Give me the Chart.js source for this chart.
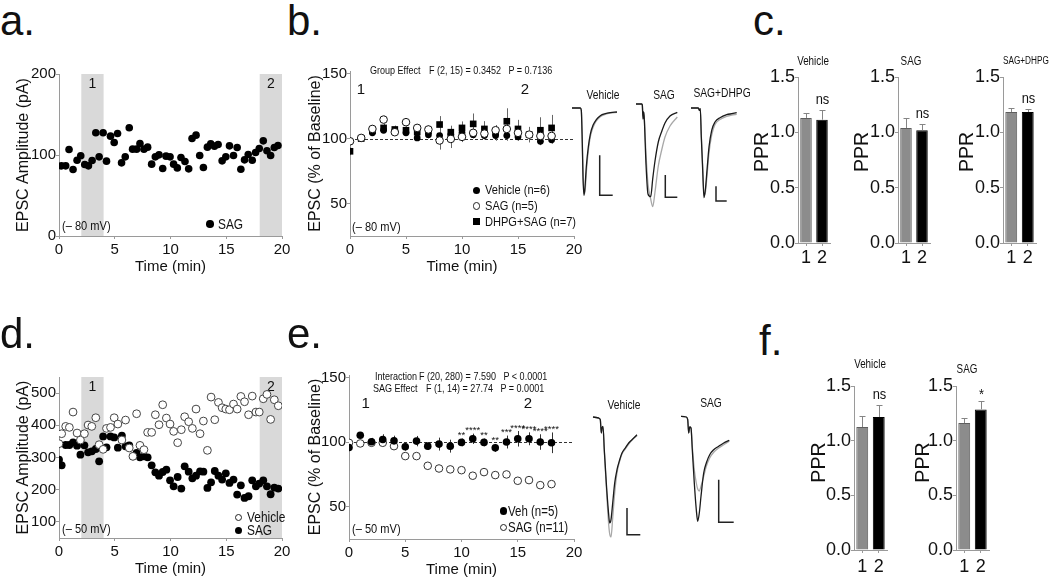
<!DOCTYPE html>
<html><head><meta charset="utf-8">
<script src="https://cdn.jsdelivr.net/npm/chart.js@4.4.1/dist/chart.umd.min.js"></script>
<style>
html,body{margin:0;padding:0;background:#fff;}
#fig{position:relative;width:1050px;height:580px;overflow:hidden;font-family:"Liberation Sans",Arial,sans-serif;color:#111;}
canvas{position:absolute;}
.t{position:absolute;white-space:pre;line-height:1;}
.mk{position:absolute;box-sizing:border-box;}
</style></head><body><div id="fig"></div>
<script>
// ---------------- DATA ----------------
// panel a : single cell, SAG, amplitude (pA) vs time (min)
const aTime = [0.21,0.60,0.90,1.26,1.62,1.95,2.31,2.64,2.97,3.30,3.60,3.96,4.26,4.62,4.95,5.25,5.61,5.94,6.30,6.60,6.96,7.26,7.62,7.95,8.31,8.64,8.97,9.30,9.60,9.96,10.28,10.61,10.94,11.30,11.63,11.93,12.29,12.62,12.95,13.31,13.61,13.94,14.27,14.63,14.96,15.29,15.65,15.98,16.31,16.64,16.97,17.33,17.63,17.96,18.32,18.65,18.98,19.31,19.64];
const aSAG = [86.6,86.6,106.8,82.1,93.6,99.0,88.2,86.6,93.2,127.4,97.7,127.4,92.4,123.3,115.5,126.6,90.3,97.7,133.6,107.2,107.2,114.2,107.2,109.7,88.7,97.7,100.2,83.3,98.6,97.7,88.7,84.1,96.9,92.0,82.9,120.4,124.5,99.4,84.5,109.7,113.8,110.9,113.0,92.8,97.7,111.3,99.4,109.3,82.5,94.0,100.6,93.6,103.1,108.0,117.5,105.2,99.4,109.3,111.8];
const aXTicks = [0,5,10,15,20];
const aYTicks = [0,100,200];
const bands = [[2,4],[18,20]];
const bandLabels = ['1','2'];

// panel b : % of baseline, -80 mV
const bTime = [0,1,2,3,4,5,6,7,8,9,10,11,12,13,14,15,16,17,18];
const bVeh = [98,100,104.4,106.4,106,104.4,100.5,103,102.3,103,104.4,103,102.3,102.3,102.3,101.3,103,97.9,99];
const bVehErr = [2,1,2,2,2,2,2,3,3,3,3,3,3,4,4,3,4,3,3];
const bSAG = [97.9,100.5,107.4,114.6,104.9,112.6,108.2,107,98.5,99.7,101.3,104.4,103.8,106.4,107.4,104.4,103,102,102];
const bSAGErr = [2,1,3,3,2,3,3,3,7,7,4,4,4,4,4,4,5,5,5];
const bDHPG = [90.2,100,106,108.2,107,106.4,105,106,110.8,104.9,108.2,111.3,107.4,105,113.3,107.4,103,106.4,108.2];
const bDHPGErr = [3,1,3,3,3,3,4,4,6.5,5,5,8,6,5,10,7,6,10,10];
const pctYTicks = [50,100,150];

// panel d : single cells, -50 mV
const dTime = [0.0,0.24,0.60,0.93,1.26,1.62,1.92,2.28,2.61,2.94,3.30,3.60,3.96,4.26,4.62,4.95,5.28,5.64,5.97,6.30,6.63,6.96,7.26,7.62,7.95,8.31,8.64,8.97,9.30,9.63,9.96,10.28,10.64,10.97,11.27,11.63,11.96,12.29,12.65,12.95,13.31,13.64,13.97,14.30,14.63,14.96,15.29,15.65,15.98,16.31,16.64,17.00,17.33,17.66,17.96,18.32,18.65,18.98,19.31,19.67];
const dVehicle = [342.9,373.9,396.6,393.5,441.1,376.0,354.3,373.9,400.8,396.6,423.5,339.8,325.3,390.4,393.5,423.5,403.9,354.3,416.3,329.5,303.6,435.9,337.7,324.3,378.0,378.0,432.8,401.8,463.8,422.5,403.9,381.1,346.0,386.3,426.6,411.1,390.4,450.4,373.9,413.2,322.2,487.6,417.3,471.1,454.5,450.4,448.3,465.9,450.4,489.7,473.1,432.8,490.7,441.1,441.1,482.4,495.9,418.3,479.3,460.7];
const dSAG = [293.3,275.7,338.8,338.8,347.0,336.7,308.8,337.7,316.0,319.1,326.4,288.1,365.6,331.5,365.6,362.5,330.5,367.7,334.6,337.7,303.6,313.9,300.5,303.6,300.5,275.7,254.0,243.7,255.0,262.3,229.2,210.6,239.5,203.4,272.6,256.1,235.4,243.7,257.1,256.1,205.4,223.0,258.1,243.7,231.3,250.9,220.9,231.3,184.8,213.7,174.4,179.6,229.2,210.6,218.9,229.2,210.6,185.8,206.5,203.4];
const dYTicks = [100,200,300,400,500];

// panel e : % of baseline, -50 mV
const eTime = [0,1,2,3,4,5,6,7,8,9,10,11,12,13,14,15,16,17,18];
const eVeh = [95.9,105.4,100.3,102.1,101,96.4,100.8,96.9,98.5,96.9,99.8,102.6,99.8,95.6,100.1,102.6,102.6,100.1,99.5];
const eVehErr = [2,2,3,4,4,3,4,3,5,5,3,4,3,3,5,6,5,6,8];
const eSAG = [99.5,99,99.5,99.5,96.9,89.2,89.2,81.7,79.6,78.9,78.3,74,76.8,74.5,75,70.1,70.6,66.7,67.5];
const eSAGErr = [1,1,1,1,1.5,1.5,1.5,1.5,1.5,1.5,1.5,2,1.5,1.5,2,2,1.5,1.5,2];
const eStars = ['','','','','','','','','','','**','****','**','**','***','****','****','****','****'];

// panels c, f : paired-pulse ratio (periods 1 and 2)
const pprLabels = ['1','2'];
const pprTicks = [0,0.5,1.0,1.5];
const cVehicle = [1.13,1.114],  cVehicleErr = [0.045,0.09];
const cSAG = [1.039,1.018],     cSAGErr = [0.09,0.06];
const cDHPG = [1.184,1.184],    cDHPGErr = [0.036,0.03];
const fVehicle = [1.125,1.216], fVehicleErr = [0.105,0.114];
const fSAG = [1.161,1.286],     fSAGErr = [0.046,0.076];
const cSig = ['','ns'], fVehSig = ['','ns'], fSAGSig = ['','*'];

// example EPSC traces (time ms, inward amplitude pA): grey and black sweeps
const bVehT = [0,8.3,9.3,10.3,11,12,13,14.3,16.3,18.3,21,24.3,28.3,33.3,38.3,45];
const bVehGrey = [0,0,2.3,33,64,86,84,65,43,29,19.5,13,8.7,6.3,5,4.3];
const bVehBlack = [0,0,2.3,35.7,69,87.3,79,59,39,26.3,17.3,11.7,7.7,5.7,4.7,4];
const bSagT = [0,5.7,6.3,7,7.7,8.3,10,12,14.7,16.7,19,22.3,25.7,29,34,41.3];
const bSagGrey = [0,0,1,12,8,14,50,80,95,102.7,88,62,46,33,22,13];
const bSagBlack = [0,0,1,15,8,15,60,90,92.7,75,57,38,27.5,19,12,8.3];
const bDhT = [0,7.3,8.3,9.3,10.3,11.7,13,14.3,16,18,20.7,24,29,35.7,40.7,45.7];
const bDhGrey = [0,0,2.3,0.7,27,58,87.3,85,68,45,27,16.5,11.5,8.3,7,6.3];
const bDhBlack = [0,0,2.3,0.7,29,62.3,89.7,82.3,62.3,39,22.3,14,9.7,6.7,5.7,4.7];
const eVehT = [0,5.7,7.3,8.3,9,10,11.3,13.3,15.3,16.7,18,19.7,21.7,24,26.7,29,32.3,35.7,39,44];
const eVehGrey = [-1,0,1.7,15,10,9,33.3,68.3,101.7,116,119,100,75,55,43,36,31,26,22,17.7];
const eVehBlack = [-1,0,1.7,15,10,8.3,31.7,65,92,105,101.7,85,65,51.7,41.7,35,30,25,21.7,16.7];
const eSagT = [0,5.3,6.7,7.7,8.7,10,11.3,13.3,15.3,16.7,18.3,20,22.7,25.3,28.7,32.7,37.7,42.7,48.3];
const eSagGrey = [-0.7,0,2.7,16,10,11,29.3,52.7,66,72,74,69.3,59.3,49.3,41,35.3,31,27.7,24.3];
const eSagBlack = [-0.7,0,2.7,16,10,11,32.7,66,92.7,104.3,96,79.3,56,46,37.7,32.7,29.3,26,23.3];
// calibration bars (ms, pA)
const bVehBarT = [27.7,27.7,40.7], bVehBarA = [47.3,87.3,87.3];
const bSagBarT = [29.3,29.3,41.3], bSagBarA = [71,93.3,93.3];
const bDhBarT = [25,25,35.7],      bDhBarA = [78.3,93,93];
const eVehBarT = [34,34,47.3],     eVehBarA = [90,116.7,116.7];
const eSagBarT = [37.7,37.7,52.7], eSagBarA = [62.7,105.3,105.3];

// ---------------- RENDER ----------------
const FONT = '"Liberation Sans", Arial, sans-serif';
Chart.defaults.font.family = FONT;
Chart.defaults.color = '#111';
const figEl = document.getElementById('fig');
const pts = (xs, ys) => xs.map((x, i) => ({x, y: ys[i]}));
const neg = a => a.map(v => -v);

const figPlugin = {
  id: 'fig',
  beforeDraw(chart, args, o) {
    if (!o.bands) return;
    const {ctx, chartArea: ca, scales: {x}} = chart;
    ctx.save();
    ctx.fillStyle = '#d9d9d9';
    o.bands.forEach(([a, b]) => {
      const x0 = x.getPixelForValue(a), x1 = x.getPixelForValue(b);
      ctx.fillRect(x0, ca.top, x1 - x0, ca.bottom - ca.top);
    });
    ctx.fillStyle = '#111';
    ctx.font = '14px ' + FONT;
    ctx.textAlign = 'center';
    ctx.textBaseline = 'middle';
    o.bands.forEach(([a, b], i) => ctx.fillText(o.bandLabels[i], x.getPixelForValue((a + b) / 2), ca.top + 10));
    ctx.restore();
  },
  beforeDatasetsDraw(chart, args, o) {
    const {ctx, chartArea: ca, scales: {x, y}} = chart;
    ctx.save();
    if (o.refLine != null) {
      ctx.strokeStyle = '#333'; ctx.lineWidth = 1; ctx.setLineDash([3, 2]);
      const py = Math.round(y.getPixelForValue(o.refLine)) + 0.5;
      ctx.beginPath(); ctx.moveTo(x.getPixelForValue(0), py); ctx.lineTo(ca.right, py); ctx.stroke();
      ctx.setLineDash([]);
    }
    if (o.scatterErr) {
      chart.data.datasets.forEach((ds, di) => {
        if (!ds.errors) return;
        const meta = chart.getDatasetMeta(di);
        ctx.strokeStyle = o.errColor || '#555'; ctx.lineWidth = 1;
        ds.data.forEach((p, i) => {
          const px = Math.round(meta.data[i].x) + 0.5;
          ctx.beginPath();
          ctx.moveTo(px, y.getPixelForValue(p.y - ds.errors[i]));
          ctx.lineTo(px, y.getPixelForValue(p.y + ds.errors[i]));
          ctx.stroke();
        });
      });
    }
    ctx.restore();
  },
  afterDatasetsDraw(chart, args, o) {
    const {ctx, scales: {y}} = chart;
    ctx.save();
    chart.data.datasets.forEach((ds, di) => {
      const meta = chart.getDatasetMeta(di);
      if (o.barErr && ds.errors) {
        ctx.strokeStyle = '#858585'; ctx.lineWidth = 1;
        ds.data.forEach((v, i) => {
          const px = Math.round(meta.data[i].x) + 0.5;
          const top = Math.round(y.getPixelForValue(v + ds.errors[i])) + 0.5;
          ctx.beginPath();
          ctx.moveTo(px, y.getPixelForValue(v)); ctx.lineTo(px, top);
          ctx.moveTo(px - 3, top); ctx.lineTo(px + 3, top);
          ctx.stroke();
          const s = ds.sig && ds.sig[i];
          if (s) {
            ctx.fillStyle = '#111'; ctx.textAlign = 'center';
            ctx.font = '14px ' + FONT;
            ctx.save(); ctx.translate(px, top); ctx.scale(0.92, 1);
            if (s === '*') { ctx.textBaseline = 'alphabetic'; ctx.fillText(s, 0, -3); }
            else { ctx.textBaseline = 'middle'; ctx.fillText(s, 0, -10); }
            ctx.restore();
          }
        });
      }
      if (ds.stars) {
        ctx.fillStyle = '#111'; ctx.textAlign = 'center'; ctx.textBaseline = 'alphabetic';
        ctx.font = '9.5px ' + FONT;
        ds.data.forEach((p, i) => {
          if (!ds.stars[i]) return;
          ctx.fillText(ds.stars[i], meta.data[i].x, y.getPixelForValue(p.y + ds.errors[i]) - 0.5);
        });
      }
    });
    ctx.restore();
  }
};

function place(box) {
  const c = document.createElement('canvas');
  c.width = box.w; c.height = box.h;
  c.style.left = box.x + 'px'; c.style.top = box.y + 'px';
  figEl.appendChild(c);
  return c;
}

function xyChart(box, area, s) {
  const cv = place(box);
  const yw = area.l - box.x, xh = box.y + box.h - area.b;
  const padT = area.t - box.y, padR = box.x + box.w - area.r;
  const ax = (a, horiz) => {
    const lh = (a.titleSize || 10) * 1.2;
    const tp = horiz ? {top: 0, bottom: box.y + box.h - a.titlePos - lh / 2}
                     : {top: a.titlePos - box.x - lh / 2, bottom: 0};
    const ticks = {font: {size: a.tickSize}, color: '#111', padding: a.tickPad, autoSkip: false, maxRotation: 0};
    if (a.fmt) ticks.callback = a.fmt;
    const o = {
      type: a.type || 'linear',
      title: {display: !!a.title, text: a.title, font: {size: a.titleSize, family: FONT}, color: '#111', padding: tp},
      ticks,
      grid: {display: true, drawOnChartArea: false, drawTicks: true, tickLength: a.tickLen, color: '#9a9a9a', offset: false},
      border: {display: true, color: '#9a9a9a', width: 1},
      afterFit: horiz ? (sc => { sc.height = xh; sc.paddingLeft = 0; sc.paddingRight = 0; })
                      : (sc => { sc.width = yw; sc.paddingTop = 0; sc.paddingBottom = 0; })
    };
    if (a.min != null) o.min = a.min;
    if (a.max != null) o.max = a.max;
    if (a.ticks) o.afterBuildTicks = sc => { sc.ticks = a.ticks.map(v => ({value: v})); };
    return o;
  };
  return new Chart(cv, {
    type: s.type,
    data: s.data,
    options: {
      responsive: false, animation: false, devicePixelRatio: 1,
      layout: {padding: {top: padT, right: padR, left: 0, bottom: 0}},
      plugins: {legend: {display: false}, tooltip: {enabled: false}, fig: s.fig || {}},
      scales: {x: ax(s.x, true), y: ax(s.y, false)}
    },
    plugins: [figPlugin]
  });
}

const timeAxis = (titlePos) => ({min: 0, max: 20, ticks: aXTicks, title: 'Time (min)', titleSize: 15, titlePos, tickSize: 15, tickLen: 3, tickPad: 2});

// panel a
xyChart({x: 0, y: 50, w: 300, h: 235}, {l: 59, t: 74, r: 282, b: 236}, {
  type: 'scatter',
  data: {datasets: [{data: pts(aTime, aSAG), pointRadius: 3.8, pointBackgroundColor: '#000', pointBorderColor: '#000', pointBorderWidth: 0}]},
  x: timeAxis(266.7),
  y: {min: 0, max: 200, ticks: aYTicks, title: 'EPSC Amplitude (pA)', titleSize: 16, titlePos: 23.7, tickSize: 15, tickLen: 3, tickPad: 0},
  fig: {bands, bandLabels}
});

// panel b
xyChart({x: 290, y: 50, w: 295, h: 235}, {l: 350, t: 71, r: 574, b: 236}, {
  type: 'scatter',
  data: {datasets: [
    {data: pts(bTime, bSAG), errors: bSAGErr, order: 0, pointRadius: 3.8, pointBackgroundColor: '#fff', pointBorderColor: '#111', pointBorderWidth: 1},
    {data: pts(bTime, bVeh), errors: bVehErr, order: 1, pointRadius: 3.4, pointBackgroundColor: '#000', pointBorderColor: '#000', pointBorderWidth: 0},
    {data: pts(bTime, bDHPG), errors: bDHPGErr, order: 2, pointStyle: 'rect', pointRadius: 4.7, pointBackgroundColor: '#000', pointBorderColor: '#000', pointBorderWidth: 0}
  ]},
  x: timeAxis(266.7),
  y: {min: 25, max: 152, ticks: pctYTicks, title: 'EPSC (% of Baseline)', titleSize: 16, titlePos: 315.8, tickSize: 15, tickLen: 3, tickPad: 0},
  fig: {refLine: 100, scatterErr: true, errColor: '#666'}
});

// panel d
xyChart({x: 0, y: 350, w: 300, h: 230}, {l: 59, t: 377, r: 282, b: 538}, {
  type: 'scatter',
  data: {datasets: [
    {data: pts(dTime, dVehicle), order: 0, pointRadius: 3.9, pointBackgroundColor: '#fff', pointBorderColor: '#444', pointBorderWidth: 1},
    {data: pts(dTime, dSAG), order: 1, pointRadius: 3.9, pointBackgroundColor: '#000', pointBorderColor: '#000', pointBorderWidth: 0}
  ]},
  x: timeAxis(569.3),
  y: {min: 50, max: 550, ticks: dYTicks, title: 'EPSC Amplitude (pA)', titleSize: 16, titlePos: 23.7, tickSize: 15, tickLen: 3, tickPad: 0},
  fig: {bands, bandLabels}
});

// panel e
xyChart({x: 290, y: 350, w: 295, h: 230}, {l: 349, t: 375, r: 574, b: 539}, {
  type: 'scatter',
  data: {datasets: [
    {data: pts(eTime, eVeh), errors: eVehErr, stars: eStars, order: 0, pointRadius: 3.8, pointBackgroundColor: '#000', pointBorderColor: '#000', pointBorderWidth: 0},
    {data: pts(eTime, eSAG), errors: eSAGErr, order: 1, pointRadius: 3.8, pointBackgroundColor: '#fff', pointBorderColor: '#333', pointBorderWidth: 1}
  ]},
  x: timeAxis(570),
  y: {min: 25, max: 152, ticks: pctYTicks, title: 'EPSC (% of Baseline)', titleSize: 16, titlePos: 315.8, tickSize: 15, tickLen: 3, tickPad: 0},
  fig: {refLine: 100, scatterErr: true, errColor: '#333'}
});

// PPR bar charts
function pprChart(box, area, vals, errs, sig, titleText, titlePos, xPad) {
  xyChart(box, area, {
    type: 'bar',
    data: {labels: pprLabels, datasets: [{data: vals, errors: errs, sig, backgroundColor: ['#8c8c8c', '#000'], borderColor: ['#5e5e5e', '#000'], borderWidth: 1, barPercentage: 0.72, categoryPercentage: 1}]},
    x: {type: 'category', tickSize: 18, tickLen: 3, tickPad: xPad},
    y: {min: 0, max: 1.5, ticks: pprTicks, fmt: v => Number(v).toFixed(1), title: titleText, titleSize: 19.5, titlePos, tickSize: 18, tickLen: 3, tickPad: 0},
    fig: {barErr: true}
  });
}
pprChart({x: 750, y: 50, w: 85, h: 220}, {l: 798, t: 77, r: 830, b: 243}, cVehicle, cVehicleErr, cSig, '   PPR', 763, 1.7);
pprChart({x: 850, y: 50, w: 85, h: 220}, {l: 898, t: 77, r: 930, b: 243}, cSAG, cSAGErr, cSig, '   PPR', 863, 1.7);
pprChart({x: 955, y: 50, w: 95, h: 220}, {l: 1003, t: 77, r: 1036, b: 243}, cDHPG, cDHPGErr, cSig, '   PPR', 968, 1.7);
pprChart({x: 806, y: 360, w: 86, h: 220}, {l: 854, t: 386, r: 887, b: 550}, fVehicle, fVehicleErr, fVehSig, '  PPR', 820, 3);
pprChart({x: 908, y: 360, w: 86, h: 220}, {l: 956, t: 386, r: 989, b: 550}, fSAG, fSAGErr, fSAGSig, '  PPR', 923.3, 3);

// trace charts
function traceChart(box, xr, yr, t, grey, black, barT, barA) {
  const cv = place(box);
  new Chart(cv, {
    type: 'line',
    data: {datasets: [
      {data: pts(t, neg(grey)), borderColor: '#a8a8a8', borderWidth: 1.3, cubicInterpolationMode: 'monotone', order: 1, clip: false},
      {data: pts(t, neg(black)), borderColor: '#1a1a1a', borderWidth: 1.3, cubicInterpolationMode: 'monotone', order: 0, clip: false},
      {data: pts(barT, neg(barA)), borderColor: '#222', borderWidth: 1.5, tension: 0, order: 0, clip: false}
    ]},
    options: {
      responsive: false, animation: false, devicePixelRatio: 1,
      layout: {padding: 0},
      plugins: {legend: {display: false}, tooltip: {enabled: false}},
      elements: {point: {radius: 0}},
      scales: {x: {type: 'linear', display: false, min: xr[0], max: xr[1]}, y: {display: false, min: yr[0], max: yr[1]}}
    }
  });
}
traceChart({x: 570, y: 103, w: 50, h: 100}, [-2, 48], [-95, 5], bVehT, bVehGrey, bVehBlack, bVehBarT, bVehBarA);
traceChart({x: 634, y: 99, w: 50, h: 110}, [-2, 48], [-105, 5], bSagT, bSagGrey, bSagBlack, bSagBarT, bSagBarA);
traceChart({x: 689, y: 103, w: 50, h: 100}, [-2, 48], [-95, 5], bDhT, bDhGrey, bDhBlack, bDhBarT, bDhBarA);
traceChart({x: 591, y: 413, w: 55, h: 130}, [-2, 53], [-125, 5], eVehT, eVehGrey, eVehBlack, eVehBarT, eVehBarA);
traceChart({x: 679, y: 412, w: 60, h: 115}, [-2, 58], [-110, 5], eSagT, eSagGrey, eSagBlack, eSagBarT, eSagBarA);

// ---------------- TEXT ----------------
const SQ = 0.82; // condensed lettering of the original figure
function txt(s, x, cy, size, narrow, align) {
  const d = document.createElement('div');
  d.className = 't';
  d.textContent = s;
  d.style.fontSize = size + 'px';
  d.style.top = (cy - size / 2) + 'px';
  d.style.left = x + 'px';
  const tr = [];
  if (align === 'center') { tr.push('translateX(-50%)'); d.style.transformOrigin = 'center center'; }
  else d.style.transformOrigin = 'left center';
  if (narrow) tr.push('scaleX(' + SQ + ')');
  if (tr.length) d.style.transform = tr.join(' ');
  figEl.appendChild(d);
}
function marker(x, cy, r, kind) {
  const d = document.createElement('div');
  d.className = 'mk';
  d.style.left = (x - r) + 'px'; d.style.top = (cy - r) + 'px';
  d.style.width = (2 * r) + 'px'; d.style.height = (2 * r) + 'px';
  if (kind === 'open') { d.style.background = '#fff'; d.style.border = '1px solid #222'; d.style.borderRadius = '50%'; }
  else if (kind === 'sq') { d.style.background = '#000'; }
  else { d.style.background = '#000'; d.style.borderRadius = '50%'; }
  figEl.appendChild(d);
}
// panel letters
txt('a.', 0, 20.5, 42); txt('b.', 287, 20.5, 42); txt('c.', 753, 20.5, 42);
txt('d.', 0, 333.7, 42); txt('e.', 287, 333.7, 42); txt('f.', 759, 340.5, 42);
// a
txt('(– 80 mV)', 62, 226, 13.5, true);
marker(210, 224, 3.8, 'fill'); txt('SAG', 218, 224, 14.5, true);
// b
txt('Group Effect', 370, 70, 11, true);
txt('F (2, 15) = 0.3452   P = 0.7136', 429, 70, 11, true);
txt('1', 361, 88, 15, false, 'center'); txt('2', 525, 88, 15, false, 'center');
marker(476.7, 190, 3.5, 'fill'); txt('Vehicle (n=6)', 485, 190, 13.5, true);
marker(476.7, 206, 3.8, 'open'); txt('SAG (n=5)', 485, 206, 13.5, true);
marker(476.7, 221.7, 3.4, 'sq'); txt('DHPG+SAG (n=7)', 485, 221.7, 13.5, true);
txt('(– 80 mV)', 352, 226.7, 13.5, true);
txt('Vehicle', 603, 95, 12.5, true, 'center'); txt('SAG', 664, 95, 12.5, true, 'center'); txt('SAG+DHPG', 722, 93, 12.5, true, 'center');
// c
txt('Vehicle', 813.3, 61, 12, true, 'center'); txt('SAG', 911, 61, 12, true, 'center'); txt('SAG+DHPG', 1003, 61, 10, true);
// d
txt('(– 50 mV)', 62, 529, 13.5, true);
marker(238.3, 517.3, 3.8, 'open'); txt('Vehicle', 246.7, 517.3, 14.5, true);
marker(238.3, 530.7, 3.8, 'fill'); txt('SAG', 246.7, 530.7, 14.5, true);
// e
txt('Interaction', 375, 376, 11, true);
txt('F (20, 280) = 7.590   P < 0.0001', 418.5, 376, 11, true);
txt('SAG Effect', 373.3, 388, 11, true);
txt('F (1, 14) = 27.74   P = 0.0001', 426, 388, 11, true);
txt('1', 365.7, 402, 15, false, 'center'); txt('2', 528, 402, 15, false, 'center');
marker(503.3, 511, 3.6, 'fill'); txt('Veh (n=5)', 508.3, 511, 14, true);
marker(503.3, 527.3, 3.8, 'open'); txt('SAG (n=11)', 508.3, 527.3, 14, true);
txt('(– 50 mV)', 352, 529, 13.5, true);
txt('Vehicle', 624, 405, 12.5, true, 'center'); txt('SAG', 710.7, 403, 12.5, true, 'center');
// f
txt('Vehicle', 870, 364, 12, true, 'center'); txt('SAG', 967.3, 369, 12, true, 'center');
</script></body></html>
